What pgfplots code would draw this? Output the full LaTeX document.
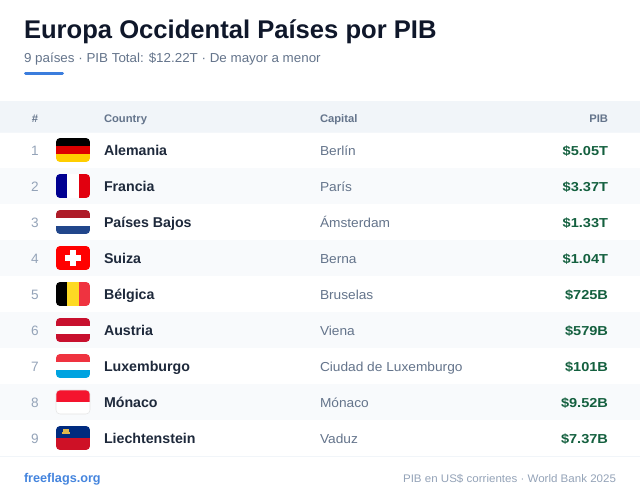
\documentclass[border=0pt]{standalone}
\usepackage{pgfplots}
\pgfplotsset{compat=1.18}
\usepackage{fontspec}
\setmainfont{Liberation Sans}
\newfontfamily\fsub[FakeStretch=1.03]{Liberation Sans}
\newfontfamily\fcap[FakeStretch=1.055]{Liberation Sans}
\newfontfamily\ffoot[FakeStretch=1.05]{Liberation Sans}
\newfontfamily\fhead[FakeStretch=1.02]{Liberation Sans}
\newfontfamily\fval[FakeStretch=1.12]{Liberation Sans}
\definecolor{ctitle}{HTML}{0F172A}
\definecolor{csub}{HTML}{64748B}
\definecolor{cblue}{HTML}{3B7DDD}
\definecolor{cfoot}{HTML}{4585DE}
\definecolor{chead}{HTML}{F1F5F9}
\definecolor{cstripe}{HTML}{F8FAFC}
\definecolor{crank}{HTML}{94A3B8}
\definecolor{cname}{HTML}{1E293B}
\definecolor{cpib}{HTML}{14603F}
\definecolor{cline}{HTML}{F1F5F9}
\definecolor{deR}{HTML}{DD0000}\definecolor{deY}{HTML}{FFCE00}
\definecolor{frB}{HTML}{000091}\definecolor{frR}{HTML}{E1000F}
\definecolor{nlR}{HTML}{AE1C28}\definecolor{nlB}{HTML}{21468B}
\definecolor{chR}{HTML}{FF0000}
\definecolor{beY}{HTML}{FDDA24}\definecolor{beR}{HTML}{EF3340}
\definecolor{atR}{HTML}{C8102E}
\definecolor{luR}{HTML}{EF3340}\definecolor{luB}{HTML}{00A3E0}
\definecolor{mcR}{HTML}{F4142E}
\definecolor{liB}{HTML}{002B7F}\definecolor{liR}{HTML}{CE1126}\definecolor{liY}{HTML}{E0B84C}
\newcommand{\rect}[5]{\addplot[fill=#5,draw=none,forget plot] coordinates {(#1,#3)(#2,#3)(#2,#4)(#1,#4)} --cycle;}
\newcommand{\rowtext}[5]{%
\node[anchor=base,text=crank,font=\fontsize{10.2pt}{12pt}\selectfont] at (axis cs:35,#1+5) {#2};
\node[anchor=base west,text=cname,font=\fontsize{10.65pt}{12pt}\selectfont\bfseries] at (axis cs:104,#1+5) {#3};
\node[anchor=base west,text=csub,font=\fontsize{9.75pt}{12pt}\fcap\selectfont] at (axis cs:320,#1+5) {#4};
\node[anchor=base east,text=cpib,font=\fontsize{9.75pt}{12pt}\fval\selectfont\bfseries] at (axis cs:608,#1+5) {\$#5};
}
\newcommand{\flagstart}[1]{\begin{scope}\clip[rounded corners=3pt] (axis cs:56,#1-12) rectangle (axis cs:90,#1+12);}
\newcommand{\flagend}{\end{scope}}
\newcommand{\threeh}[4]{\flagstart{#1}\rect{56}{90}{#1-12}{#1-4}{#2}\rect{56}{90}{#1-4}{#1+4}{#3}\rect{56}{90}{#1+4}{#1+12}{#4}\flagend}
\newcommand{\threev}[4]{\flagstart{#1}\rect{56}{67.33}{#1-12}{#1+12}{#2}\rect{67.33}{78.67}{#1-12}{#1+12}{#3}\rect{78.67}{90}{#1-12}{#1+12}{#4}\flagend}
\tikzset{every node/.style={inner sep=0pt,outer sep=0pt}}
\begin{document}
\begin{tikzpicture}
\begin{axis}[
  scale only axis,width=480pt,height=372pt,
  xmin=0,xmax=640,ymin=0,ymax=496,y dir=reverse,
  hide axis,clip=false,
]
\rect{0}{640}{0}{496}{white}
\rect{0}{640}{101}{132}{chead}
\rect{0}{640}{132}{133}{cline!80!white}
\rect{0}{640}{168}{204}{cstripe}
\rect{0}{640}{240}{276}{cstripe}
\rect{0}{640}{312}{348}{cstripe}
\rect{0}{640}{384}{420}{cstripe}
\rect{0}{640}{456}{457}{cline}
\node[anchor=base west,text=ctitle,font=\fontsize{19.2pt}{22pt}\selectfont\bfseries] at (axis cs:24,38) {Europa Occidental Países por PIB};
\node[anchor=base west,text=csub,font=\fontsize{9.75pt}{12pt}\fsub\selectfont] at (axis cs:24,62) {9 países · PIB Total: \$12.22T · De mayor a menor};
\addplot[draw=cblue,line width=2.25pt,line cap=round,forget plot] coordinates {(25.5,73.5)(62.5,73.5)};
\node[anchor=base,text=csub,font=\fontsize{8.25pt}{10pt}\fhead\selectfont\bfseries] at (axis cs:35,122) {\#};
\node[anchor=base west,text=csub,font=\fontsize{8.25pt}{10pt}\fhead\selectfont\bfseries] at (axis cs:104,122) {Country};
\node[anchor=base west,text=csub,font=\fontsize{8.25pt}{10pt}\fhead\selectfont\bfseries] at (axis cs:320,122) {Capital};
\node[anchor=base east,text=csub,font=\fontsize{8.25pt}{10pt}\fhead\selectfont\bfseries] at (axis cs:608,122) {PIB};
\rowtext{150}{1}{Alemania}{Berlín}{5.05T}
\rowtext{186}{2}{Francia}{París}{3.37T}
\rowtext{222}{3}{Países Bajos}{Ámsterdam}{1.33T}
\rowtext{258}{4}{Suiza}{Berna}{1.04T}
\rowtext{294}{5}{Bélgica}{Bruselas}{725B}
\rowtext{330}{6}{Austria}{Viena}{579B}
\rowtext{366}{7}{Luxemburgo}{Ciudad de Luxemburgo}{101B}
\rowtext{402}{8}{Mónaco}{Mónaco}{9.52B}
\rowtext{438}{9}{Liechtenstein}{Vaduz}{7.37B}
% flags
\threeh{150}{black}{deR}{deY}
\threev{186}{frB}{white}{frR}
\threeh{222}{nlR}{white}{nlB}
\flagstart{258}\rect{56}{90}{246}{270}{chR}\rect{70}{76}{250}{266}{white}\rect{65}{81}{255}{261}{white}\flagend
\threev{294}{black}{beY}{beR}
\threeh{330}{atR}{white}{atR}
\threeh{366}{luR}{white}{luB}
\flagstart{402}\rect{56}{90}{390}{402}{mcR}\rect{56}{90}{402}{414}{white}\flagend
\draw[black!10,line width=0.4pt,rounded corners=3pt] (axis cs:56,390) rectangle (axis cs:90,414);
\flagstart{438}\rect{56}{90}{426}{438}{liB}\rect{56}{90}{438}{450}{liR}\rect{62}{69.5}{431.5}{434}{liY}\rect{63}{68.5}{429}{431.5}{liY}\flagend
% footer
\node[anchor=base west,text=cfoot,font=\fontsize{9.5pt}{12pt}\selectfont\bfseries] at (axis cs:24,482) {freeflags.org};
\node[anchor=base east,text=crank,font=\fontsize{8.25pt}{10pt}\ffoot\selectfont] at (axis cs:616,482) {PIB en US\$ corrientes · World Bank 2025};
\end{axis}
\end{tikzpicture}
\end{document}
